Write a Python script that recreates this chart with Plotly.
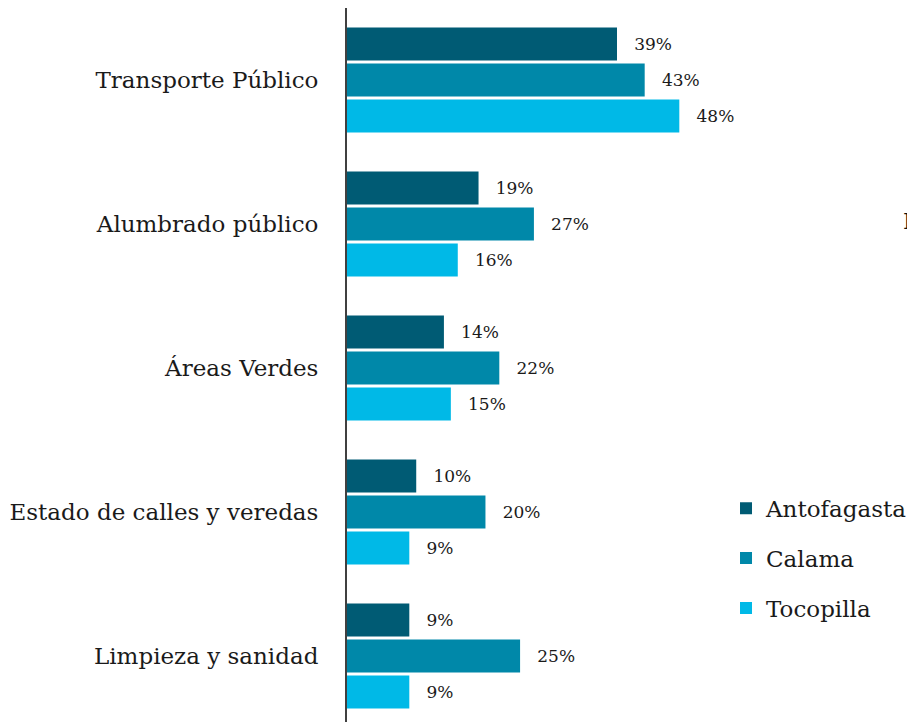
import plotly.graph_objects as go

categories = ["Transporte Público", "Alumbrado público", "Áreas Verdes",
              "Estado de calles y veredas", "Limpieza y sanidad"]
antofagasta = [39, 19, 14, 10, 9]
calama = [43, 27, 22, 20, 25]
tocopilla = [48, 16, 15, 9, 9]
series_names = ["Antofagasta", "Calama", "Tocopilla"]
series_values = [antofagasta, calama, tocopilla]
colors = ["#005b74", "#0088a9", "#00b9e7"]

FONT = "DejaVu Serif"

fig = go.Figure()
for i, (name, vals, col) in enumerate(zip(series_names, series_values, colors)):
    fig.add_trace(go.Bar(
        y=categories, x=vals, name=name, orientation="h",
        marker=dict(color=col, line=dict(width=0)),
        text=[f"\u00a0\u00a0\u2009{v}%" for v in vals],
        textposition="outside", cliponaxis=False, constraintext="none",
        textfont=dict(family=FONT, size=17, color="#1a1a1a"),
        legendgroup=name,
    ))

fig.add_annotation(x=0.962, y=0.704, xref="paper", yref="paper", text="I",
                   showarrow=False, xanchor="left", yanchor="middle",
                   font=dict(family=FONT, size=22, color="#111"))

fig.update_layout(
    width=915, height=722,
    margin=dict(l=339, r=0, t=0, b=0, autoexpand=False),
    paper_bgcolor="white", plot_bgcolor="white",
    barmode="group", bargap=0.25, bargroupgap=0.08,
    showlegend=True,
    legend=dict(x=0.658, y=0.337, xanchor="left", yanchor="top",
                font=dict(family=FONT, size=23, color="#1a1a1a"),
                tracegroupgap=17, itemwidth=30, bgcolor="rgba(0,0,0,0)"),
    xaxis=dict(range=[0, 83.2], visible=False, fixedrange=True),
    yaxis=dict(range=[4.514, -0.5], showline=True, linecolor="#404040", linewidth=2,
               showgrid=False, zeroline=False, ticks="outside", ticklen=22,
               tickcolor="rgba(0,0,0,0)", automargin=False,
               tickfont=dict(family=FONT, size=23, color="#1a1a1a")),
)

fig.write_html("out.html")
